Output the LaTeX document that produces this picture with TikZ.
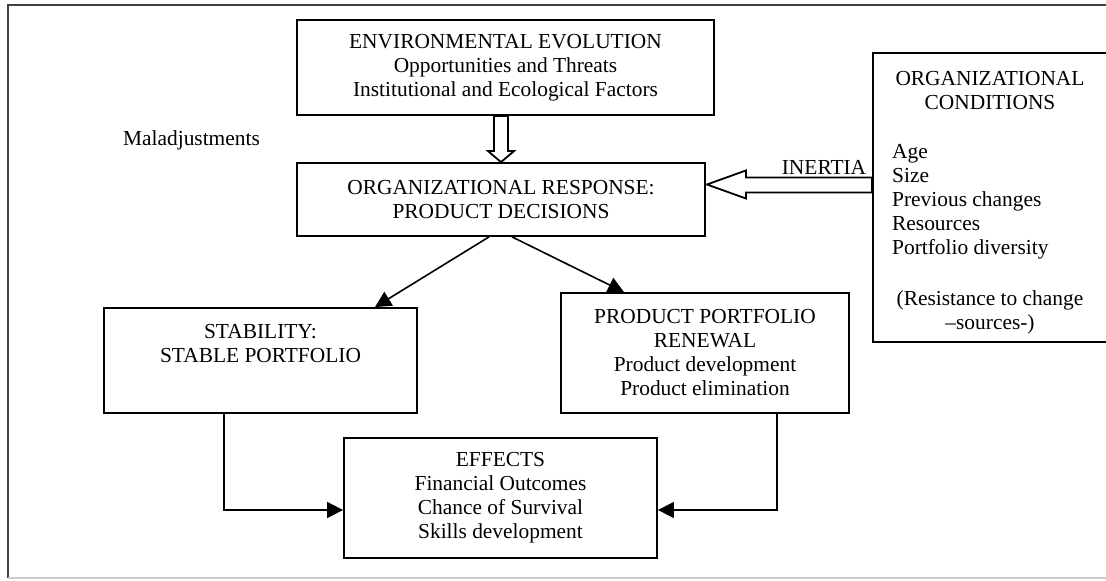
\documentclass[tikz,border=0pt]{standalone}
\usepackage{fontspec}
\setmainfont{Liberation Serif}
\usepackage{tikz}
\usetikzlibrary{positioning, arrows.meta, calc}

\tikzset{
  box/.style={shape=rectangle, draw=black, line width=0.9pt, align=center, inner sep=0pt},
  link/.style={line width=0.8pt, -{Triangle[length=8pt,width=8pt]}},
  hollow/.style={draw=black, fill=white, line width=0.9pt, line join=miter},
}

\begin{document}
\begin{tikzpicture}[x=0.5pt, y=-0.5pt, font=\fontsize{10.7pt}{12pt}\selectfont]
    \useasboundingbox (0,0) rectangle (1106,581);

    % outer frame
    \draw[black!75, line width=1pt] (8,578) -- (8,5) -- (1112,5);
    \draw[black!20, line width=1pt] (8,578) -- (1112,578);

    \node[box, minimum width=208.5pt, minimum height=47.5pt] (env) at (505.5,67.5) {ENVIRONMENTAL EVOLUTION\\Opportunities and Threats\\Institutional and Ecological Factors};
    \node[box, minimum width=204pt, minimum height=36.5pt] (resp) at (501,199.5) {ORGANIZATIONAL RESPONSE:\\PRODUCT DECISIONS};

    \node[box, minimum width=156.5pt, minimum height=52.5pt] (stab) at (260.5,360.5) {};
    \node[align=center, below=5pt of stab.north] (stabtxt) {STABILITY:\\STABLE PORTFOLIO};

    \node[box, minimum width=144pt, minimum height=60pt] (renew) at (705,353) {PRODUCT PORTFOLIO\\RENEWAL\\Product development\\Product elimination};
    \node[box, minimum width=156.5pt, minimum height=60pt] (effects) at (500.5,498) {EFFECTS\\Financial Outcomes\\Chance of Survival\\Skills development};

    % conditions on the right
    \node[box, minimum width=117pt, minimum height=144.5pt] (cond) at (990,197.5) {};
    \node[align=center, below=6pt of cond.north] (condtitle) {ORGANIZATIONAL\\CONDITIONS};
    \node[align=left, below right=42.5pt and 6.5pt of cond.north west] (condlist) {Age\\Size\\Previous changes\\Resources\\Portfolio diversity};
    \node[align=center, above=1pt of cond.south] (condnote) {(Resistance to change\\--sources-)};

    \node (malad) at (191.5,140) {Maladjustments};
    \node (inertia) at (824,167) {INERTIA};

    % hollow arrows
    \draw[hollow] (resp.north) -- ++(-13,-11) -- ++(6,0) -- ($(env.south -| resp.north)+(-7,0)$)
        -- ++(14,0) -- ($(resp.north)+(7,-11)$) -- ++(6,0) -- cycle;
    \coordinate (tip) at ($(resp.east)+(1,-15)$);
    \draw[hollow] (tip) -- ++(39,-14) -- ++(0,7) -- ($(tip -| cond.west)+(0,-7)$)
        -- ++(0,15) -- ($(tip)+(39,8)$) -- ++(0,6) -- cycle;

    % decisions and effects
    \draw[link] ($(resp.south)+(-12,0)$) -- ($(stab.north)+(114.5,0)$);
    \draw[link] ($(resp.south)+(11,0)$) -- ($(renew.north)+(-81,0)$);
    \draw[link] ($(stab.south)+(-36.5,0)$) |- ($(effects.west)+(0,12)$);
    \draw[link] ($(renew.south)+(72,0)$) |- ($(effects.east)+(0,12)$);

\end{tikzpicture}
\end{document}
